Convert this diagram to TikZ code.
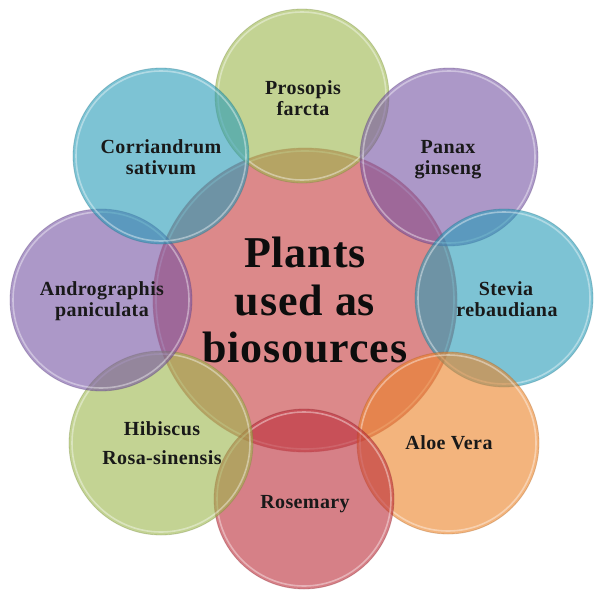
\documentclass[tikz,border=0pt]{standalone}
\usepackage{fontspec}
\setmainfont{Liberation Serif}[LetterSpace=2]
\definecolor{cpink}{RGB}{220,137,138}
\definecolor{cgreen}{RGB}{155,182,75}
\definecolor{ccyan}{RGB}{38,155,183}
\definecolor{cpurple}{RGB}{117,83,163}
\definecolor{corange}{RGB}{235,130,38}
\definecolor{cred}{RGB}{187,43,55}
\begin{document}
\begin{tikzpicture}[x=1pt,y=-1pt,
  bub/.style={circle, inner sep=0pt, minimum size=#1, fill opacity=0.6, draw opacity=0.3, line width=0.8pt},
  rim/.style={white, opacity=0.4, line width=1.6pt},
  lbl/.style={font=\fontsize{20}{21}\selectfont\bfseries, anchor=base, inner sep=0pt, text=black!90},
  big/.style={font=\fontsize{44}{48}\selectfont\bfseries, anchor=base, inner sep=0pt, text=black!95}]
\useasboundingbox (0,0) rectangle (594,589);
% central circle
\node[circle, inner sep=0pt, minimum size=304pt, fill=cpink, draw=cpink!85!black, draw opacity=0.5, line width=0.8pt] (hub) at (305,300) {};
\draw[rim] (hub.center) circle[radius=149pt];
% outer circles
\node[bub=174pt, fill=cgreen, draw=cgreen!70!black] (pros) at (302,96) {};
\draw[rim] (pros.center) circle[radius=84pt];
\node[bub=178pt, fill=cpurple, draw=cpurple!70!black] (panax) at (449,157) {};
\draw[rim] (panax.center) circle[radius=86pt];
\node[bub=178pt, fill=ccyan, draw=ccyan!70!black] (stev) at (504,298) {};
\draw[rim] (stev.center) circle[radius=86pt];
\node[bub=182pt, fill=corange, draw=corange!70!black] (aloe) at (448,443) {};
\draw[rim] (aloe.center) circle[radius=88pt];
\node[bub=180pt, fill=cred, draw=cred!70!black] (rose) at (304,499) {};
\draw[rim] (rose.center) circle[radius=87pt];
\node[bub=184pt, fill=cgreen, draw=cgreen!70!black] (hib) at (161,443) {};
\draw[rim] (hib.center) circle[radius=89pt];
\node[bub=182pt, fill=cpurple, draw=cpurple!70!black] (andro) at (101,300) {};
\draw[rim] (andro.center) circle[radius=88pt];
\node[bub=176pt, fill=ccyan, draw=ccyan!70!black] (cori) at (161,156) {};
\draw[rim] (cori.center) circle[radius=85pt];
% labels
\node[big] (t1) at (305,267) {Plants};
\node[big] (t2) at (305,315) {used as};
\node[big] (t3) at (305,362) {biosources};
\node[lbl] (pros1) at (303,94) {Prosopis};
\node[lbl] (pros2) at (303,115) {farcta};
\node[lbl] (panax1) at (448,153) {Panax};
\node[lbl] (panax2) at (448,174) {ginseng};
\node[lbl] (stev1) at (506,295) {Stevia};
\node[lbl] (stev2) at (507,316) {rebaudiana};
\node[lbl] (aloe1) at (449,449) {Aloe Vera};
\node[lbl] (rose1) at (305,508) {Rosemary};
\node[lbl] (hib1) at (162,435) {Hibiscus};
\node[lbl] (hib2) at (162,464) {Rosa-sinensis};
\node[lbl] (andro1) at (102,295) {Andrographis};
\node[lbl] (andro2) at (102,316) {paniculata};
\node[lbl] (cori1) at (161,153) {Corriandrum};
\node[lbl] (cori2) at (161,174) {sativum};
\end{tikzpicture}
\end{document}
